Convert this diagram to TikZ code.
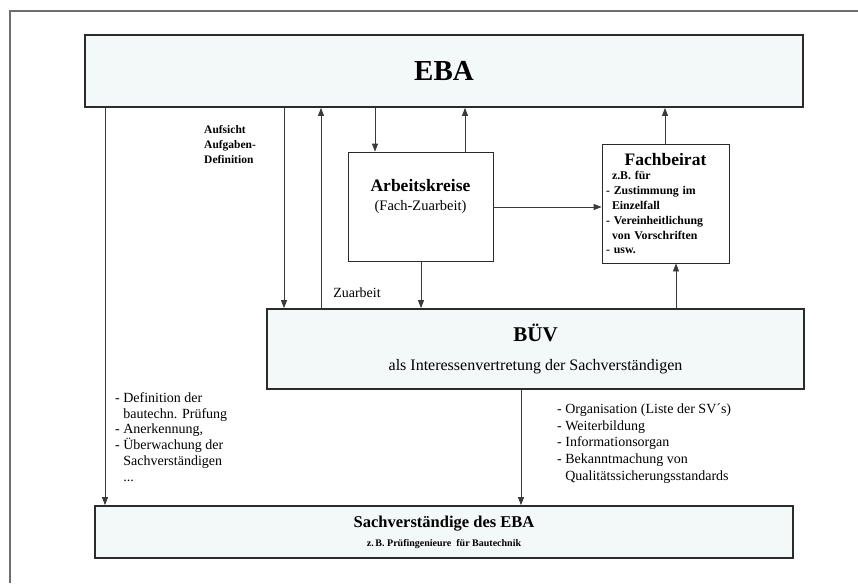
\documentclass[tikz,border=0pt]{standalone}
\usepackage{fontspec}
\setmainfont{Liberation Serif}
\usetikzlibrary{arrows.meta, positioning, calc}
\definecolor{boxfill}{HTML}{F3F8F9}
\definecolor{boxline}{HTML}{2B2B2B}
\definecolor{arrline}{HTML}{3A3A3A}
\definecolor{framegray}{HTML}{6E6E6E}

\begin{document}
\begin{tikzpicture}[x=1pt, y=-1pt,
  mainbox/.style={rectangle, draw=boxline, line width=1.8pt, fill=boxfill, inner sep=0pt, align=center},
  subbox/.style={rectangle, draw=boxline, line width=0.8pt, fill=white, inner sep=0pt},
  arr/.style={-{Triangle[length=8pt, width=6pt]}, line width=0.8pt, arrline},
  lbl/.style={inner sep=0pt, align=left, anchor=west},
]
\useasboundingbox (0,0) rectangle (858,583);

% Frame
\draw[framegray, line width=1.2pt] (10,583) -- (10,11) -- (858,11);

% Boxes
\node[mainbox, minimum width=718pt, minimum height=72pt, font=\fontsize{29}{31}\selectfont\bfseries] (eba) at (444,71) {EBA};
\node[subbox, minimum width=145pt, minimum height=109pt, align=center, font=\fontsize{14.5}{19}\selectfont] (ak) at (420.5,206.5) {{\fontsize{17.5}{19}\selectfont\bfseries Arbeitskreise}\\(Fach-Zuarbeit)\\[5pt]};
\node[subbox, minimum width=127pt, minimum height=119pt, text width=119pt, align=left, font=\fontsize{11.8}{14.8}\selectfont\bfseries] (fb) at (665.5,203.5) {{\centering\fontsize{17.5}{17}\selectfont Fachbeirat\par}\hspace*{6pt}z.B. für\\- Zustimmung im\\\hspace*{6pt}Einzelfall\\- Vereinheitlichung\\\hspace*{6pt}von Vorschriften\\- usw.};
\node[mainbox, minimum width=537pt, minimum height=80pt, font=\fontsize{16}{29}\selectfont] (buev) at (535.5,349) {{\fontsize{21}{22}\selectfont\bfseries BÜV}\\als Interessenvertretung der Sachverständigen};
\node[mainbox, minimum width=698pt, minimum height=52pt, font=\fontsize{10}{19}\selectfont\bfseries] (sv) at (444,532) {{\fontsize{16.5}{18}\selectfont Sachverständige des EBA}\\z.\,B. Prüfingenieure \ für Bautechnik};

% Labels
\node[lbl, font=\fontsize{11.5}{15}\selectfont\bfseries] (aufsicht) at (204,145) {Aufsicht\\Aufgaben-\\Definition};
\node[inner sep=0pt, font=\fontsize{14}{16}\selectfont] (zuarbeit) at (357,293) {Zuarbeit};
\node[lbl, font=\fontsize{14}{15.8}\selectfont] (ebalist) at (115,437) {- Definition der\\\hphantom{- }bautechn. Prüfung\\- Anerkennung,\\- Überwachung der\\\hphantom{- }Sachverständigen\\\hphantom{- }...};
\node[lbl, font=\fontsize{14}{16.6}\selectfont] (buevlist) at (557,443.5) {- Organisation (Liste der SV´s)\\- Weiterbildung\\- Informationsorgan\\- Bekanntmachung von\\\hphantom{- }Qualitätssicherungsstandards};

% Connectors
\draw[arr] (eba.south -| 105,0) -- (sv.north -| 105,0);
\draw[arr] (eba.south -| 284,0) -- (buev.north -| 284,0);
\draw[arr] (buev.north -| 321,0) -- (eba.south -| 321,0);
\draw[arr] (eba.south -| 375,0) -- (ak.north -| 375,0);
\draw[arr] (ak.north -| 465,0) -- (eba.south -| 465,0);
\draw[arr] (fb.north -| 665,0) -- (eba.south -| 665,0);
\draw[arr] (ak.east |- 0,207) -- (fb.west |- 0,207);
\draw[arr] (ak.south -| 421,0) -- (buev.north -| 421,0);
\draw[arr] (buev.north -| 676,0) -- (fb.south -| 676,0);
\draw[arr] (buev.south -| 521,0) -- (sv.north -| 521,0);

\end{tikzpicture}
\end{document}
